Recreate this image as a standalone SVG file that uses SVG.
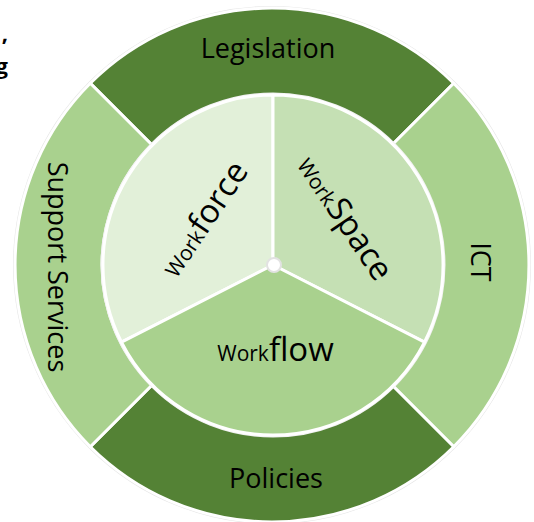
<svg xmlns="http://www.w3.org/2000/svg" width="534" height="522" viewBox="0 0 534 522">
  <style>
    .lbl { font-family: "Open Sans", "Liberation Sans", sans-serif; fill: #000; }
    .ring { font-size: 27px; }
    .sep { stroke: #ffffff; stroke-width: 3; stroke-linejoin: round; }
    .dark { fill: #548235; }
    .light { fill: #A9D18E; }
    .frag { font-family: "Open Sans", "Liberation Sans", sans-serif; font-weight: bold; font-size: 22px; fill: #000; }
  </style>
  <rect width="534" height="522" fill="#ffffff"/>
  <text class="frag" x="8" y="41" text-anchor="end">,</text>
  <text class="frag" x="8" y="74" text-anchor="end">g</text>

  <circle cx="272" cy="265" r="258" fill="none" stroke="#e6e6e6" stroke-width="2"/>

  <g id="legislation">
    <path class="dark sep" d="M90.3,83.3 A257,257 0 0 1 453.7,83.3 L392.2,144.8 A170,170 0 0 0 151.8,144.8 Z"/>
    <text class="lbl ring" x="268" y="58" text-anchor="middle">Legislation</text>
  </g>
  <g id="ict">
    <path class="light sep" d="M453.7,83.3 A257,257 0 0 1 453.7,446.7 L392.2,385.2 A170,170 0 0 0 392.2,144.8 Z"/>
    <text class="lbl ring" transform="translate(480,262) rotate(90)" x="0" y="9.5" text-anchor="middle">ICT</text>
  </g>
  <g id="policies">
    <path class="dark sep" d="M453.7,446.7 A257,257 0 0 1 90.3,446.7 L151.8,385.2 A170,170 0 0 0 392.2,385.2 Z"/>
    <text class="lbl ring" x="276" y="488" text-anchor="middle">Policies</text>
  </g>
  <g id="support-services">
    <path class="light sep" d="M90.3,446.7 A257,257 0 0 1 90.3,83.3 L151.8,144.8 A170,170 0 0 0 151.8,385.2 Z"/>
    <text class="lbl ring" transform="translate(57,267) rotate(90)" x="0" y="9.5" text-anchor="middle">Support Services</text>
  </g>

  <circle cx="273" cy="265" r="171" fill="none" stroke="#f2f2f2" stroke-width="3"/>

  <g id="workforce">
    <path class="sep" fill="#E2F0D9" d="M273,265 L121.5,342.2 A170,170 0 0 1 273,95 Z"/>
    <text class="lbl" transform="translate(213,225) rotate(-56)" x="0" y="0" text-anchor="middle"><tspan font-size="21">Work</tspan><tspan font-size="33">force</tspan></text>
  </g>
  <g id="workspace">
    <path class="sep" fill="#C5E0B4" d="M273,265 L273,95 A170,170 0 0 1 424.5,342.2 Z"/>
    <text class="lbl" transform="translate(336,224) rotate(56)" x="0" y="0" text-anchor="middle"><tspan font-size="21">Work</tspan><tspan font-size="33">Space</tspan></text>
  </g>
  <g id="workflow">
    <path class="sep" fill="#A9D18E" d="M273,265 L424.5,342.2 A170,170 0 0 1 121.5,342.2 Z"/>
    <text class="lbl" x="275.5" y="361" text-anchor="middle"><tspan font-size="21">Work</tspan><tspan font-size="33">flow</tspan></text>
  </g>

  <circle id="hub" cx="274" cy="265" r="7" fill="#ffffff" stroke="#e2e2e2" stroke-width="2"/>
</svg>
